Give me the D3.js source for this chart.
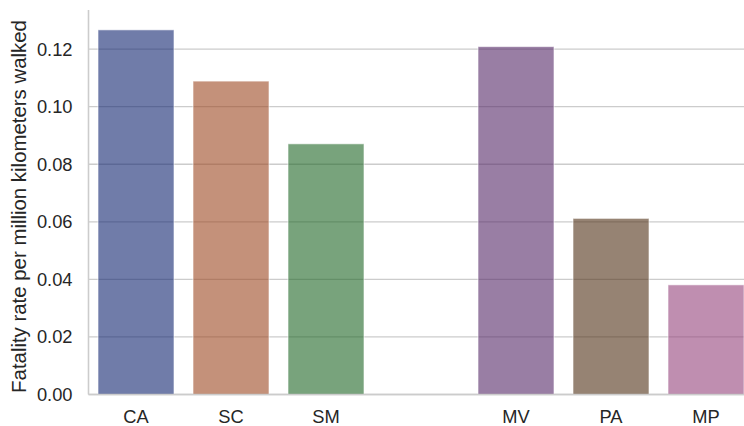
<!DOCTYPE html>
<html>
<head>
<meta charset="utf-8">
<script src="https://cdn.jsdelivr.net/npm/d3@7"></script>
<style>
  html, body { margin: 0; padding: 0; background: #fff; }
  svg { display: block; }
  text { font-family: "Liberation Sans", Arial, sans-serif; fill: #262626; }
</style>
</head>
<body>
<svg id="chart" width="744" height="426"></svg>
<script>
// Data
const categories = ["CA", "SC", "SM", "", "MV", "PA", "MP"];
const values = [0.1267, 0.1089, 0.0871, null, 0.1209, 0.0612, 0.0381];
const colors = ["#10256f", "#9c4721", "#1e6525", "#8a1a1a", "#552867", "#503016", "#94437c"];
const yTicks = [0.00, 0.02, 0.04, 0.06, 0.08, 0.10, 0.12];
const yLabel = "Fatality rate per million kilometers walked";

const svg = d3.select("#chart");
const mLeft = 88.5, mRight = 753.5, mTop = 10, mBottom = 394.5;

const x = d3.scaleBand().domain(d3.range(categories.length)).range([mLeft, mRight]).paddingInner(0).paddingOuter(0);
const y = d3.scaleLinear().domain([0, 0.1336]).range([mBottom, mTop]);

// Grid
svg.append("g").selectAll("line").data(yTicks).join("line")
  .attr("x1", mLeft).attr("x2", 744)
  .attr("y1", d => y(d)).attr("y2", d => y(d))
  .attr("stroke", "#cccccc").attr("stroke-width", 1.3);

// Bars
const bw = x.bandwidth() * 0.8;
svg.append("g").selectAll("rect")
  .data(values.map((v, i) => ({v, i})).filter(d => d.v !== null))
  .join("rect")
  .attr("x", d => x(d.i) + (x.bandwidth() - bw) / 2)
  .attr("width", bw)
  .attr("y", d => y(d.v))
  .attr("height", d => y(0) - y(d.v))
  .attr("fill", d => colors[d.i])
  .attr("fill-opacity", 0.6)
  .attr("stroke", "#ffffff")
  .attr("stroke-opacity", 0.6)
  .attr("stroke-width", 1);

// Spines
svg.append("line").attr("x1", mLeft).attr("x2", mLeft).attr("y1", mTop).attr("y2", mBottom)
  .attr("stroke", "#cccccc").attr("stroke-width", 1.6);
svg.append("line").attr("x1", mLeft).attr("x2", 744).attr("y1", mBottom).attr("y2", mBottom)
  .attr("stroke", "#cccccc").attr("stroke-width", 1.6);

// Y tick labels
svg.append("g").selectAll("text").data(yTicks).join("text")
  .attr("x", 72.5).attr("y", d => y(d))
  .attr("dy", "0.35em")
  .attr("text-anchor", "end")
  .attr("font-size", 18.3)
  .text(d => d3.format(".2f")(d));

// X tick labels
svg.append("g").selectAll("text").data(categories.map((c, i) => ({c, i})).filter(d => d.c !== ""))
  .join("text")
  .attr("x", d => x(d.i) + x.bandwidth() / 2)
  .attr("y", 423)
  .attr("text-anchor", "middle")
  .attr("font-size", 18.3)
  .text(d => d.c);

// Y axis label
svg.append("text")
  .attr("transform", "translate(26,206.5) rotate(-90)")
  .attr("text-anchor", "middle")
  .attr("font-size", 20.4)
  .text(yLabel);
</script>
</body>
</html>
